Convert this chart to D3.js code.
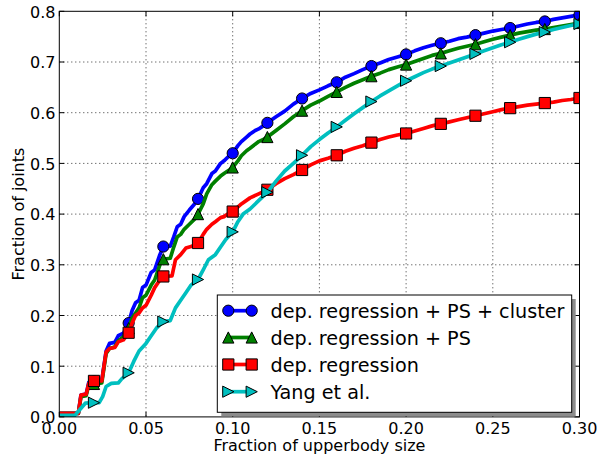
<!DOCTYPE html>
<html>
<head>
<meta charset="utf-8">
<script src="https://cdn.jsdelivr.net/npm/d3@7/dist/d3.min.js"></script>
<style>
  html, body { margin: 0; padding: 0; background: #fff; }
  text { font-family: "DejaVu Sans", sans-serif; fill: #000; }
</style>
</head>
<body>
<svg id="chart" width="600" height="456"></svg>
<script>
// ---------- data ----------
const seriesNames = ["dep. regression + PS + cluster", "dep. regression + PS", "dep. regression", "Yang et al."];

const clusterCurve = [[0,0.007],[0.011,0.007],[0.0125,0.043],[0.0155,0.045],[0.017,0.068],[0.02,0.07],[0.0245,0.072],[0.027,0.13],[0.029,0.145],[0.032,0.147],[0.034,0.16],[0.037,0.165],[0.04,0.185],[0.042,0.21],[0.044,0.225],[0.046,0.23],[0.048,0.255],[0.05,0.26],[0.053,0.285],[0.055,0.29],[0.058,0.32],[0.06,0.336],[0.064,0.337],[0.066,0.355],[0.068,0.375],[0.07,0.38],[0.072,0.395],[0.075,0.408],[0.078,0.42],[0.08,0.43],[0.083,0.452],[0.085,0.46],[0.088,0.48],[0.09,0.485],[0.093,0.5],[0.095,0.505],[0.098,0.515],[0.1,0.52],[0.103,0.535],[0.105,0.543],[0.108,0.552],[0.11,0.558],[0.113,0.565],[0.115,0.568],[0.118,0.575],[0.12,0.58],[0.125,0.592],[0.13,0.603],[0.135,0.617],[0.14,0.628],[0.145,0.638],[0.15,0.645],[0.155,0.653],[0.16,0.66],[0.165,0.67],[0.17,0.677],[0.175,0.685],[0.18,0.692],[0.185,0.698],[0.19,0.705],[0.195,0.71],[0.2,0.715],[0.205,0.722],[0.21,0.728],[0.215,0.733],[0.22,0.737],[0.225,0.741],[0.23,0.746],[0.235,0.749],[0.24,0.753],[0.245,0.757],[0.25,0.761],[0.255,0.764],[0.26,0.767],[0.265,0.771],[0.27,0.775],[0.275,0.778],[0.28,0.78],[0.285,0.784],[0.29,0.787],[0.295,0.79],[0.3,0.793]];

const psCurve = [[0,0.007],[0.011,0.007],[0.0125,0.04],[0.0155,0.042],[0.017,0.063],[0.02,0.065],[0.0245,0.067],[0.027,0.125],[0.029,0.135],[0.032,0.138],[0.034,0.15],[0.037,0.158],[0.04,0.175],[0.042,0.195],[0.044,0.205],[0.046,0.215],[0.048,0.235],[0.05,0.24],[0.053,0.26],[0.055,0.27],[0.058,0.3],[0.06,0.311],[0.064,0.313],[0.066,0.335],[0.068,0.355],[0.07,0.36],[0.072,0.37],[0.075,0.38],[0.078,0.39],[0.08,0.4],[0.083,0.42],[0.085,0.44],[0.088,0.458],[0.09,0.465],[0.093,0.475],[0.095,0.48],[0.098,0.487],[0.1,0.492],[0.103,0.505],[0.105,0.515],[0.108,0.525],[0.11,0.53],[0.113,0.538],[0.115,0.543],[0.118,0.548],[0.12,0.552],[0.125,0.565],[0.13,0.578],[0.135,0.592],[0.14,0.604],[0.145,0.615],[0.15,0.623],[0.155,0.632],[0.16,0.641],[0.165,0.65],[0.17,0.658],[0.175,0.665],[0.18,0.672],[0.185,0.678],[0.19,0.685],[0.195,0.69],[0.2,0.695],[0.205,0.701],[0.21,0.707],[0.215,0.713],[0.22,0.717],[0.225,0.722],[0.23,0.727],[0.235,0.731],[0.24,0.735],[0.245,0.74],[0.25,0.745],[0.255,0.749],[0.26,0.753],[0.265,0.757],[0.27,0.76],[0.275,0.763],[0.28,0.765],[0.285,0.768],[0.29,0.771],[0.295,0.774],[0.3,0.777]];

const regressionCurve = [[0,0.007],[0.011,0.007],[0.0125,0.043],[0.0155,0.045],[0.017,0.066],[0.02,0.071],[0.0245,0.071],[0.027,0.128],[0.029,0.135],[0.032,0.137],[0.034,0.148],[0.037,0.152],[0.04,0.166],[0.042,0.185],[0.044,0.2],[0.046,0.205],[0.048,0.215],[0.05,0.22],[0.053,0.24],[0.055,0.255],[0.058,0.27],[0.06,0.277],[0.065,0.278],[0.067,0.31],[0.07,0.32],[0.073,0.333],[0.076,0.336],[0.08,0.343],[0.083,0.36],[0.085,0.37],[0.088,0.38],[0.09,0.385],[0.093,0.393],[0.095,0.395],[0.098,0.402],[0.1,0.405],[0.105,0.42],[0.11,0.432],[0.115,0.44],[0.12,0.448],[0.125,0.46],[0.13,0.47],[0.135,0.478],[0.14,0.487],[0.145,0.497],[0.15,0.505],[0.155,0.51],[0.16,0.516],[0.165,0.524],[0.17,0.53],[0.175,0.535],[0.18,0.541],[0.185,0.547],[0.19,0.552],[0.195,0.556],[0.2,0.559],[0.205,0.564],[0.21,0.569],[0.215,0.574],[0.22,0.578],[0.225,0.582],[0.23,0.586],[0.235,0.59],[0.24,0.594],[0.245,0.598],[0.25,0.602],[0.255,0.606],[0.26,0.609],[0.265,0.612],[0.27,0.615],[0.275,0.617],[0.28,0.619],[0.285,0.621],[0.29,0.624],[0.295,0.626],[0.3,0.629]];

const yangCurve = [[0,0.003],[0.009,0.003],[0.012,0.015],[0.015,0.027],[0.02,0.028],[0.023,0.028],[0.025,0.04],[0.027,0.06],[0.03,0.066],[0.034,0.067],[0.036,0.075],[0.04,0.087],[0.043,0.11],[0.046,0.13],[0.05,0.145],[0.053,0.16],[0.056,0.175],[0.06,0.188],[0.064,0.19],[0.067,0.215],[0.07,0.23],[0.073,0.245],[0.076,0.26],[0.08,0.271],[0.083,0.29],[0.086,0.31],[0.09,0.32],[0.093,0.335],[0.096,0.35],[0.1,0.365],[0.103,0.385],[0.106,0.4],[0.11,0.41],[0.113,0.42],[0.116,0.43],[0.12,0.443],[0.125,0.465],[0.13,0.485],[0.135,0.5],[0.14,0.516],[0.145,0.533],[0.15,0.547],[0.155,0.56],[0.16,0.572],[0.165,0.585],[0.17,0.598],[0.175,0.61],[0.18,0.622],[0.185,0.633],[0.19,0.643],[0.195,0.653],[0.2,0.663],[0.205,0.671],[0.21,0.679],[0.215,0.686],[0.22,0.692],[0.225,0.698],[0.23,0.704],[0.235,0.71],[0.24,0.716],[0.245,0.722],[0.25,0.728],[0.255,0.734],[0.26,0.739],[0.265,0.745],[0.27,0.75],[0.275,0.755],[0.28,0.759],[0.285,0.764],[0.29,0.768],[0.295,0.772],[0.3,0.775]];

const markerX = [0.02,0.04,0.06,0.08,0.1,0.12,0.14,0.16,0.18,0.2,0.22,0.24,0.26,0.28,0.3];
const xTickValues = [0, 0.05, 0.1, 0.15, 0.2, 0.25, 0.3];
const yTickValues = [0, 0.1, 0.2, 0.3, 0.4, 0.5, 0.6, 0.7, 0.8];
const xLabel = "Fraction of upperbody size";
const yLabel = "Fraction of joints";

// ---------- styles ----------
const colors = ["#0000ff", "#008000", "#ff0000", "#00bfbf"];
const shapes = ["circle", "triangleUp", "square", "triangleRight"];

const curves = [clusterCurve, psCurve, regressionCurve, yangCurve];

const plot = { left: 59.3, right: 579.5, top: 11.3, bottom: 416.9 };

const svg = d3.select("#chart");
const x = d3.scaleLinear().domain([0, 0.3]).range([plot.left, plot.right]);
const y = d3.scaleLinear().domain([0, 0.8]).range([plot.bottom, plot.top]);

svg.append("defs").append("clipPath").attr("id", "clip")
  .append("rect").attr("x", plot.left).attr("y", plot.top)
  .attr("width", plot.right - plot.left).attr("height", plot.bottom - plot.top);

// grid
const grid = svg.append("g");
grid.selectAll("line.gx").data(xTickValues.slice(1, -1)).enter().append("line")
  .attr("x1", d => x(d)).attr("x2", d => x(d)).attr("y1", plot.top).attr("y2", plot.bottom)
  .attr("stroke", "#000").attr("stroke-width", 0.8).attr("stroke-dasharray", "1,3");
grid.selectAll("line.gy").data(yTickValues.slice(1, -1)).enter().append("line")
  .attr("y1", d => y(d)).attr("y2", d => y(d)).attr("x1", plot.left).attr("x2", plot.right)
  .attr("stroke", "#000").attr("stroke-width", 0.8).attr("stroke-dasharray", "1,3");

function markerPath(shape, r) {
  switch (shape) {
    case "circle": return d3.symbol().type(d3.symbolCircle).size(Math.PI * r * r)();
    case "square": return `M${-r},${-r}H${r}V${r}H${-r}Z`;
    case "triangleUp": return `M0,${-r}L${-r},${r}L${r},${r}Z`;
    case "triangleRight": return `M${r},0L${-r},${-r}L${-r},${r}Z`;
  }
}

const line = d3.line().x(d => x(d[0])).y(d => y(d[1]));
const dataG = svg.append("g").attr("clip-path", "url(#clip)");

curves.forEach((c, i) => {
  const g = dataG.append("g");
  g.append("path").datum(c).attr("d", line)
    .attr("fill", "none").attr("stroke", colors[i]).attr("stroke-width", 3.7)
    .attr("stroke-linejoin", "round");
  const pts = markerX.map(mx => c.find(p => Math.abs(p[0] - mx) < 1e-9));
  g.selectAll("path.m").data(pts).enter().append("path")
    .attr("d", markerPath(shapes[i], 5.6))
    .attr("transform", d => `translate(${x(d[0])},${y(d[1])})`)
    .attr("fill", colors[i]).attr("stroke", "#000").attr("stroke-width", 1);
});

// frame
svg.append("rect").attr("x", plot.left).attr("y", plot.top)
  .attr("width", plot.right - plot.left).attr("height", plot.bottom - plot.top)
  .attr("fill", "none").attr("stroke", "#000").attr("stroke-width", 1);

// ticks (inward, all four sides)
const tickLen = 5;
const ticks = svg.append("g").attr("stroke", "#000").attr("stroke-width", 1);
xTickValues.forEach(v => {
  ticks.append("line").attr("x1", x(v)).attr("x2", x(v)).attr("y1", plot.bottom).attr("y2", plot.bottom - tickLen);
  ticks.append("line").attr("x1", x(v)).attr("x2", x(v)).attr("y1", plot.top).attr("y2", plot.top + tickLen);
});
yTickValues.forEach(v => {
  ticks.append("line").attr("y1", y(v)).attr("y2", y(v)).attr("x1", plot.left).attr("x2", plot.left + tickLen);
  ticks.append("line").attr("y1", y(v)).attr("y2", y(v)).attr("x1", plot.right).attr("x2", plot.right - tickLen);
});

// tick labels
svg.append("g").selectAll("text").data(xTickValues).enter().append("text")
  .attr("x", d => x(d)).attr("y", 433.5).attr("text-anchor", "middle")
  .style("font-size", "16px").text(d => d3.format(".2f")(d));
svg.append("g").selectAll("text").data(yTickValues).enter().append("text")
  .attr("x", 55.5).attr("y", d => y(d) + 6.3).attr("text-anchor", "end")
  .style("font-size", "16px").text(d => d3.format(".1f")(d));

// axis labels
svg.append("text").attr("x", (plot.left + plot.right) / 2).attr("y", 451)
  .attr("text-anchor", "middle").style("font-size", "16px").text(xLabel);
svg.append("text").attr("transform", `translate(24,${(plot.top + plot.bottom) / 2}) rotate(-90)`)
  .attr("text-anchor", "middle").style("font-size", "16px").text(yLabel);

// legend
const lg = { x: 217.3, y: 295, w: 354.4, h: 117.3 };
const legend = svg.append("g");
legend.append("rect").attr("x", lg.x + 4).attr("y", lg.y + 4).attr("width", lg.w).attr("height", lg.h)
  .attr("fill", "#8c8c8c");
legend.append("rect").attr("x", lg.x).attr("y", lg.y).attr("width", lg.w).attr("height", lg.h)
  .attr("fill", "#fff").attr("stroke", "#000").attr("stroke-width", 1);
const rowY = [310.7, 337.5, 364.5, 391.7];
seriesNames.forEach((name, i) => {
  const ry = rowY[i];
  legend.append("line").attr("x1", 228.3).attr("x2", 251.7).attr("y1", ry).attr("y2", ry)
    .attr("stroke", colors[i]).attr("stroke-width", 3.7);
  [228.3, 251.7].forEach(mx => {
    legend.append("path").attr("d", markerPath(shapes[i], 5.6))
      .attr("transform", `translate(${mx},${ry})`)
      .attr("fill", colors[i]).attr("stroke", "#000").attr("stroke-width", 1);
  });
  legend.append("text").attr("x", 270.5).attr("y", ry + 7).style("font-size", "19.2px").text(name);
});
</script>
</body>
</html>
